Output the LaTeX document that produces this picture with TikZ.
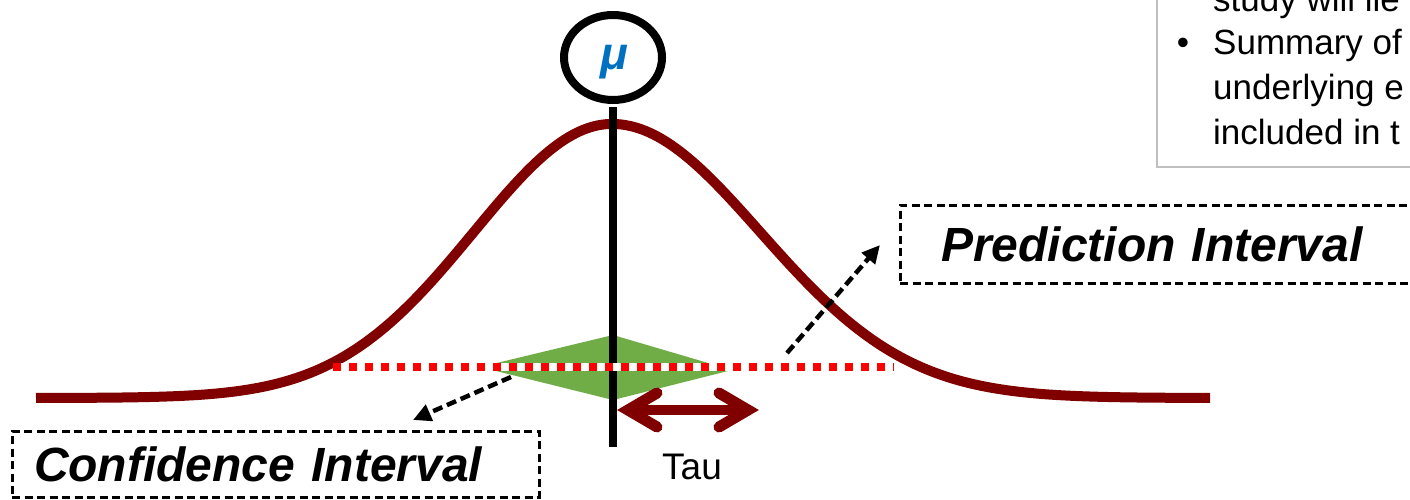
\documentclass[tikz,border=0pt]{standalone}
\usepackage{fontspec}
\setmainfont{Liberation Sans}
\usetikzlibrary{arrows.meta,shapes.geometric,calc}
\definecolor{curvered}{HTML}{800000}
\definecolor{dgreen}{HTML}{70AD47}
\definecolor{mublue}{HTML}{0070C0}
\definecolor{boxgray}{HTML}{BFBFBF}
\begin{document}
\begin{tikzpicture}[x=1pt,y=-1pt,
  curve/.style={curvered, line width=10pt},
  dbox/.style={draw=black, line width=3pt, dash pattern=on 8pt off 4.5pt, rectangle,
    outer sep=0pt, inner ysep=0pt, align=left,
    font=\fontsize{48}{56}\selectfont\bfseries\itshape},
  darr/.style={black, line width=4.5pt, dash pattern=on 10pt off 5pt,
    -{Triangle[length=18pt,width=17pt]}},
  tauline/.style={curvered, line width=10pt},
  tauhead/.style={curvered, line width=11pt, line cap=round, line join=miter, miter limit=10},
  bodytext/.style={anchor=base west, font=\fontsize{35}{42}\selectfont, inner sep=0pt},
]
\useasboundingbox (0,0) rectangle (1410,500);
\clip (0,0) rectangle (1410,500);

% bell curve
\draw[curve] plot[domain=36:612,samples=160] (\x,{398-274*exp(-0.5*((\x-612)/138)^2)})
  -- plot[domain=612:1210,samples=160] (\x,{398-274*exp(-0.5*((\x-612)/148)^2)});

% green diamond
\fill[dgreen] (480,367) -- (613,335) -- (732,370) -- (613,400) -- cycle;

% mu circle and vertical line
\node[ellipse, draw=black, line width=8pt, minimum width=98pt, minimum height=85pt, inner sep=0pt] (mu) at (613,57.5) {};
\node[font=\fontsize{46}{50}\selectfont\bfseries\itshape, text=mublue, inner sep=0pt] (mutxt) at (614,62) {μ};
\coordinate (vbot) at (613,447);
\draw[black, line width=8pt] ($(mu.south)+(0,3)$) -- (vbot);

% dotted interval line
\coordinate (dl) at (333,367);
\coordinate (dr) at (894,367);
\draw[white, line width=8pt] (dl) -- (dr);
\draw[red, line width=8pt, dash pattern=on 7.5pt off 8.5pt] (dl) -- (dr);

% tau arrow
\coordinate (tlv) at (628,410);
\coordinate (trv) at (748,410);
\draw[tauline] (tlv) -- (trv);
\draw[tauhead] ($(tlv)+(29,-17)$) -- (tlv) -- ($(tlv)+(29,17)$);
\draw[tauhead] ($(trv)+(-29,-17)$) -- (trv) -- ($(trv)+(-29,17)$);
\node[anchor=base, font=\fontsize{37}{44}\selectfont, inner sep=0pt] (tau) at (692,479) {Tau};

% interval boxes
\node[dbox, anchor=north west, minimum width=527pt, minimum height=66pt, text width=483pt, inner xsep=22pt] (ci) at (12,431) {Confidence Interval};
\node[dbox, anchor=north west, minimum height=78pt, text width=520pt, inner xsep=41pt] (pi) at (900,205) {Prediction Interval};

% dashed pointer arrows
\coordinate (ca1) at (511,377);
\coordinate (ca2) at (413,420);
\draw[darr] (ca1) -- (ca2);
\coordinate (pa1) at (787,353);
\coordinate (pa2) at (880,245);
\draw[darr] (pa1) -- (pa2);

% top-right text box
\node[draw=boxgray, line width=2.5pt, anchor=south west, minimum width=300pt, minimum height=220pt, outer sep=0pt] (tb) at (1157,167) {};
\node[bodytext] (l0) at (1213,12) {study will lie};
\node[anchor=base, font=\fontsize{35}{42}\selectfont, inner sep=0pt] (bul) at (1183,55) {•};
\node[bodytext] (l1) at (1213,55) {Summary of};
\node[bodytext] (l2) at (1213,100) {underlying e};
\node[bodytext] (l3) at (1213,145) {included in t};
\end{tikzpicture}
\end{document}
